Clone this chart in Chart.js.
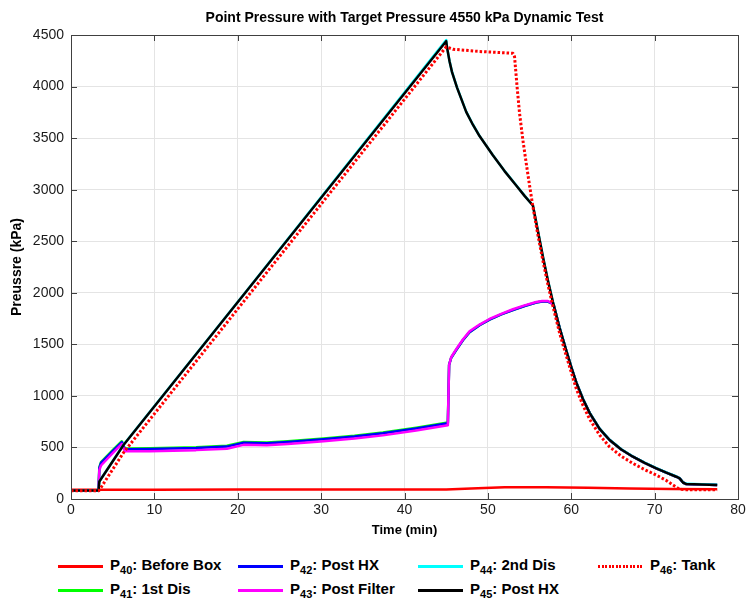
<!DOCTYPE html>
<html>
<head>
<meta charset="utf-8">
<script src="https://cdn.jsdelivr.net/npm/chart.js@4.4.0/dist/chart.umd.min.js"></script>
<style>
  body { margin: 0; background: #fff; }
  #wrap { position: relative; width: 752px; height: 601px; font-family: "Liberation Sans", Arial, sans-serif; }
  #legend .item { position: absolute; font-weight: bold; font-size: 15px; color: #000; white-space: nowrap; }
  #legend .swatch { position: absolute; height: 3px; width: 45px; }
  #legend sub { font-size: 11px; vertical-align: -4px; line-height: 0; }
</style>
</head>
<body>
<div id="wrap">
  <canvas id="chart" width="752" height="545"></canvas>
  <div id="legend"></div>
</div>
<script>
const TITLE = 'Point Pressure with Target Pressure 4550 kPa Dynamic Test'
const X_TITLE = 'Time (min)'
const Y_TITLE = 'Preussre (kPa)'
const xTicks = [0, 10, 20, 30, 40, 50, 60, 70, 80]
const yTicks = [0, 500, 1000, 1500, 2000, 2500, 3000, 3500, 4000, 4500]

// P40: Before Box
const tP40 = [0, 10, 20, 30, 40, 45, 48, 52, 57, 62, 67, 72, 77.5]
const vP40 = [90, 90, 91, 91, 92, 93, 103, 113, 115, 108, 101, 96, 95]

// P41, P42, P43 share one time base
const tDis = [0, 3.3, 3.4, 3.6, 5.0, 6.1, 6.45, 9.5, 15.0, 18.7, 20.7, 23.5, 26.0, 30.3, 34.0, 37.4, 41.4, 45.2, 45.35, 45.6, 46.2, 47.0, 47.8, 49.0, 50.2, 51.6, 53.0, 54.4, 55.8, 56.5, 57.2, 57.6, 57.9, 58.6, 59.4, 60.0, 60.6, 61.4, 62.2, 63.4, 64.6, 66.0, 67.4, 68.8, 70.2, 71.4, 72.6, 73.0, 73.4, 73.8, 77.5]
// P41: 1st Dis
const vP41 = [82, 82, 310, 358, 473, 560, 490, 492, 502, 516, 553, 549, 561, 587, 614, 645, 692, 743, 1300, 1370, 1445, 1540, 1618, 1686, 1740, 1790, 1833, 1872, 1905, 1915, 1915, 1900, 1880, 1660, 1440, 1280, 1130, 970, 835, 680, 572, 480, 410, 350, 298, 255, 216, 200, 160, 145, 136]
// P42: Post HX
const vP42 = [82, 82, 300, 350, 465, 552, 482, 484, 494, 508, 545, 541, 553, 579, 606, 637, 684, 735, 1300, 1370, 1445, 1540, 1618, 1686, 1740, 1790, 1833, 1872, 1905, 1915, 1915, 1900, 1880, 1660, 1440, 1280, 1130, 970, 835, 680, 572, 480, 410, 350, 298, 255, 216, 200, 160, 145, 136]
// P43: Post Filter
const vP43 = [82, 82, 280, 325, 445, 535, 462, 464, 474, 488, 525, 521, 533, 559, 586, 617, 664, 715, 1300, 1375, 1452, 1547, 1626, 1692, 1746, 1796, 1840, 1878, 1910, 1920, 1920, 1902, 1880, 1660, 1440, 1280, 1130, 970, 835, 680, 572, 480, 410, 350, 298, 255, 216, 200, 160, 145, 136]

// P44, P45 share one time base
const tHX = [0, 3.3, 3.4, 6.3, 20.9, 45.0, 45.1, 45.4, 45.7, 46.3, 47.4, 48.2, 49.0, 50.6, 52.0, 53.4, 54.4, 55.4, 56.0, 56.6, 57.2, 57.8, 58.6, 59.4, 60.0, 60.6, 61.4, 62.2, 63.4, 64.6, 66.0, 67.4, 68.8, 70.2, 71.4, 72.6, 73.0, 73.4, 73.8, 77.5]
// P44: 2nd Dis
const vP44 = [82, 82, 171, 526, 2002, 4452, 4382, 4247, 4142, 3992, 3757, 3632, 3522, 3335, 3182, 3043, 2942, 2848, 2602, 2352, 2122, 1912, 1662, 1442, 1282, 1132, 972, 837, 682, 574, 482, 412, 352, 300, 257, 218, 202, 162, 147, 138]
// P45: Post HX
const vP45 = [82, 82, 170, 524, 2000, 4440, 4380, 4245, 4140, 3990, 3755, 3630, 3520, 3333, 3180, 3041, 2940, 2846, 2600, 2350, 2120, 1910, 1660, 1440, 1280, 1130, 970, 835, 680, 572, 480, 410, 350, 298, 255, 216, 200, 160, 145, 136]

// P46: Tank
const tP46 = [0, 3.3, 3.4, 6.3, 45.0, 45.8, 49.0, 53.0, 53.2, 53.5, 53.8, 54.2, 54.6, 55.0, 55.4, 56.0, 56.6, 57.2, 57.8, 58.6, 59.4, 60.0, 60.6, 61.4, 62.2, 63.4, 64.6, 66.0, 67.4, 68.8, 70.2, 71.4, 72.2, 72.8, 73.2, 73.6, 77.5]
const vP46 = [80, 80, 87, 450, 4385, 4362, 4340, 4323, 4290, 4000, 3741, 3480, 3256, 3040, 2835, 2560, 2310, 2080, 1870, 1610, 1390, 1230, 1070, 910, 775, 620, 505, 415, 345, 285, 232, 180, 136, 105, 95, 90, 90]

const series = [
  { num: '40', name: 'Before Box', t: tP40, v: vP40, color: '#ff0000' },
  { num: '41', name: '1st Dis', t: tDis, v: vP41, color: '#00ff00' },
  { num: '42', name: 'Post HX', t: tDis, v: vP42, color: '#0000ff' },
  { num: '43', name: 'Post Filter', t: tDis, v: vP43, color: '#ff00ff' },
  { num: '44', name: '2nd Dis', t: tHX, v: vP44, color: '#00ffff' },
  { num: '45', name: 'Post HX', t: tHX, v: vP45, color: '#000000' },
  { num: '46', name: 'Tank', t: tP46, v: vP46, color: '#ff0000', dotted: true },
]

const FONT = '"Liberation Sans", Arial, sans-serif'

const datasets = series.map((s, i) => ({
  label: 'P' + s.num + ': ' + s.name,
  data: s.t.map((t, k) => ({ x: t, y: s.v[k] })),
  borderColor: s.color,
  borderWidth: s.dotted ? 3 : 2.5,
  borderDash: s.dotted ? [2.5, 2] : [],
  pointRadius: 0,
  fill: false,
  tension: 0,
  borderJoinStyle: 'round',
  // later series drawn on top, like the original plot
  order: series.length - i,
}))

// title centred over the plot box
const topTitle = {
  id: 'topTitle',
  afterDraw(chart) {
    const { ctx, chartArea } = chart
    ctx.save()
    ctx.font = 'bold 14px ' + FONT
    ctx.fillStyle = '#000'
    ctx.textAlign = 'center'
    ctx.textBaseline = 'middle'
    ctx.fillText(TITLE, (chartArea.left + chartArea.right) / 2, 18)
    ctx.restore()
  },
}

// box round the plot with inward tick marks
const boxTicks = {
  id: 'boxTicks',
  afterDraw(chart) {
    const { ctx, chartArea: a, scales } = chart
    ctx.save()
    ctx.strokeStyle = '#404040'
    ctx.lineWidth = 1
    ctx.beginPath()
    xTicks.forEach((v) => {
      const x = Math.round(scales.x.getPixelForValue(v)) + 0.5
      ctx.moveTo(x, a.bottom); ctx.lineTo(x, a.bottom - 6)
      ctx.moveTo(x, a.top); ctx.lineTo(x, a.top + 6)
    })
    yTicks.forEach((v) => {
      const y = Math.round(scales.y.getPixelForValue(v)) + 0.5
      ctx.moveTo(a.left, y); ctx.lineTo(a.left + 6, y)
      ctx.moveTo(a.right, y); ctx.lineTo(a.right - 6, y)
    })
    ctx.stroke()
    ctx.strokeRect(Math.round(a.left) + 0.5, Math.round(a.top) + 0.5, Math.round(a.right - a.left), Math.round(a.bottom - a.top))
    ctx.restore()
  },
}

new Chart(document.getElementById('chart'), {
  type: 'line',
  data: { datasets },
  options: {
    responsive: false,
    animation: false,
    layout: { padding: { left: 0, right: 14, top: 35, bottom: 0 } },
    plugins: { legend: { display: false }, title: { display: false }, tooltip: { enabled: false } },
    scales: {
      x: {
        type: 'linear',
        min: 0,
        max: 80,
        afterFit: (s) => { s.height = 46 },
        afterBuildTicks: (s) => { s.ticks = xTicks.map((v) => ({ value: v })) },
        ticks: { color: '#1a1a1a', font: { family: FONT, size: 14 }, padding: 3, maxRotation: 0, callback: (v) => String(v) },
        grid: { color: '#e4e4e4', drawTicks: false },
        border: { display: false },
        title: { display: true, text: X_TITLE, color: '#000', font: { family: FONT, size: 13, weight: 'bold' }, padding: { top: 0, bottom: 7 } },
      },
      y: {
        type: 'linear',
        min: 0,
        max: 4500,
        afterFit: (s) => { s.width = 71 },
        afterBuildTicks: (s) => { s.ticks = yTicks.map((v) => ({ value: v })) },
        ticks: { color: '#1a1a1a', font: { family: FONT, size: 14 }, padding: 7, callback: (v) => String(v) },
        grid: { color: '#e4e4e4', drawTicks: false },
        border: { display: false },
        title: { display: true, text: Y_TITLE, color: '#000', font: { family: FONT, size: 14, weight: 'bold' }, padding: { top: 9 } },
      },
    },
  },
  plugins: [topTitle, boxTicks],
})

// legend: four columns, filled top to bottom
const legend = document.getElementById('legend')
series.forEach((s, i) => {
  const col = Math.floor(i / 2)
  const row = i % 2
  const cy = 566 + row * 24
  const sw = document.createElement('div')
  sw.className = 'swatch'
  sw.style.left = 58 + col * 180 + 'px'
  sw.style.top = cy - 1.5 + 'px'
  sw.style.background = s.dotted
    ? 'repeating-linear-gradient(90deg,' + s.color + ' 0 2px, transparent 2px 3.5px)'
    : s.color
  legend.appendChild(sw)
  const it = document.createElement('div')
  it.className = 'item'
  it.style.left = 110 + col * 180 + 'px'
  it.style.top = cy - 10 + 'px'
  it.innerHTML = 'P<sub>' + s.num + '</sub>: ' + s.name
  legend.appendChild(it)
})
</script>
</body>
</html>
